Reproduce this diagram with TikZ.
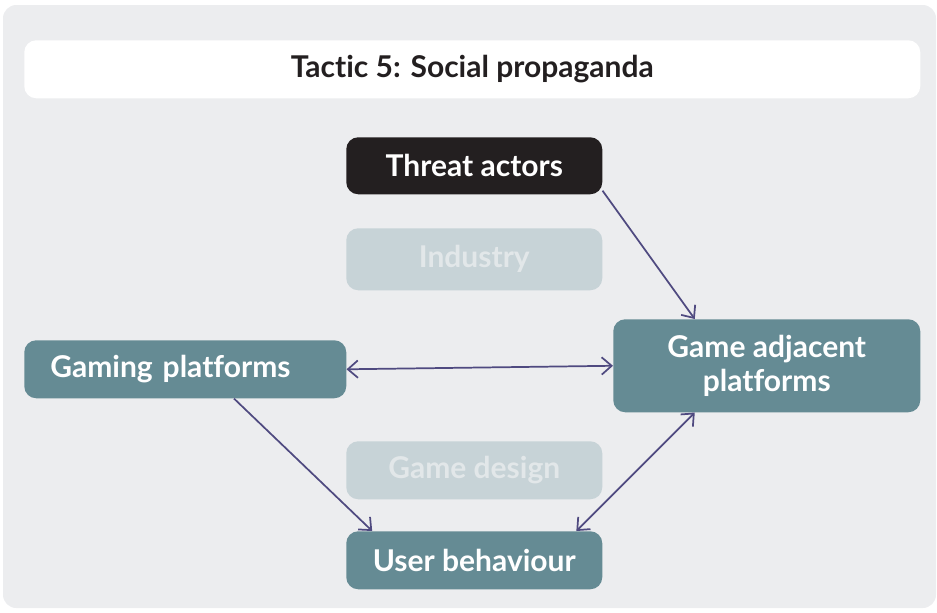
\documentclass[tikz,border=0pt]{standalone}
\usepackage{fontspec}
\setmainfont{Lato}[UprightFont=* Bold, Ligatures=NoCommon]
\usetikzlibrary{arrows.meta}

\definecolor{panelgrey}{HTML}{ECEDEF}
\definecolor{actorblack}{HTML}{231F20}
\definecolor{platteal}{HTML}{658B94}
\definecolor{fadedbox}{HTML}{C7D3D7}
\definecolor{fadedtext}{HTML}{E2E7E9}
\definecolor{linkpurple}{HTML}{4F4A80}

\begin{document}
\begin{tikzpicture}[x=0.75pt, y=-0.75pt,
    box/.style={rounded corners=9pt, inner sep=0pt, anchor=north west,
        font=\fontsize{22.5}{26}\selectfont, text=white, align=center},
    link/.style={draw=linkpurple, line width=1.3pt,
        -{Straight Barb[length=7.5pt, width=13pt, line width=1.3pt]}},
    twoway/.style={link, {Straight Barb[length=7.5pt, width=13pt, line width=1.3pt]}-{Straight Barb[length=7.5pt, width=13pt, line width=1.3pt]}}]

    % 1. Page and panel
    \useasboundingbox (0,0) rectangle (937,612);
    \fill[panelgrey, rounded corners=10pt] (3,5) rectangle (936,608);

    % 2. Title bar
    \node[box, fill=white, text=actorblack, minimum width=672pt, minimum height=43.5pt]
        (title) at (24,40) {Tactic 5: Social propaganda};

    % 3. Boxes
    \node[box, fill=actorblack, minimum width=192pt, minimum height=42.75pt]
        (threat) at (346,137) {Threat actors};
    \node[box, fill=fadedbox, text=fadedtext, minimum width=192pt, minimum height=46.5pt]
        (industry) at (346,228) {Industry};
    \node[box, fill=platteal, minimum height=43.5pt, inner xsep=19.5pt,
        text width=202.5pt, align=left]
        (gaming) at (24,340) {Gaming platforms};
    \node[box, fill=platteal, minimum width=230.25pt, minimum height=69.75pt]
        (adjacent) at (613,319) {Game adjacent\\platforms};
    \node[box, fill=fadedbox, text=fadedtext, minimum width=192pt, minimum height=43.5pt]
        (design) at (346,441) {Game design};
    \node[box, fill=platteal, minimum width=192pt, minimum height=43.5pt]
        (user) at (346,531) {User behaviour};

    % 4. Connectors
    \draw[link] (threat.-11) -- (adjacent.147);
    \draw[twoway] (gaming.east) -- (adjacent.west);
    \draw[link] (gaming.-31) -- (user.164);
    \draw[twoway] (adjacent.213) -- (user.16);

\end{tikzpicture}
\end{document}
